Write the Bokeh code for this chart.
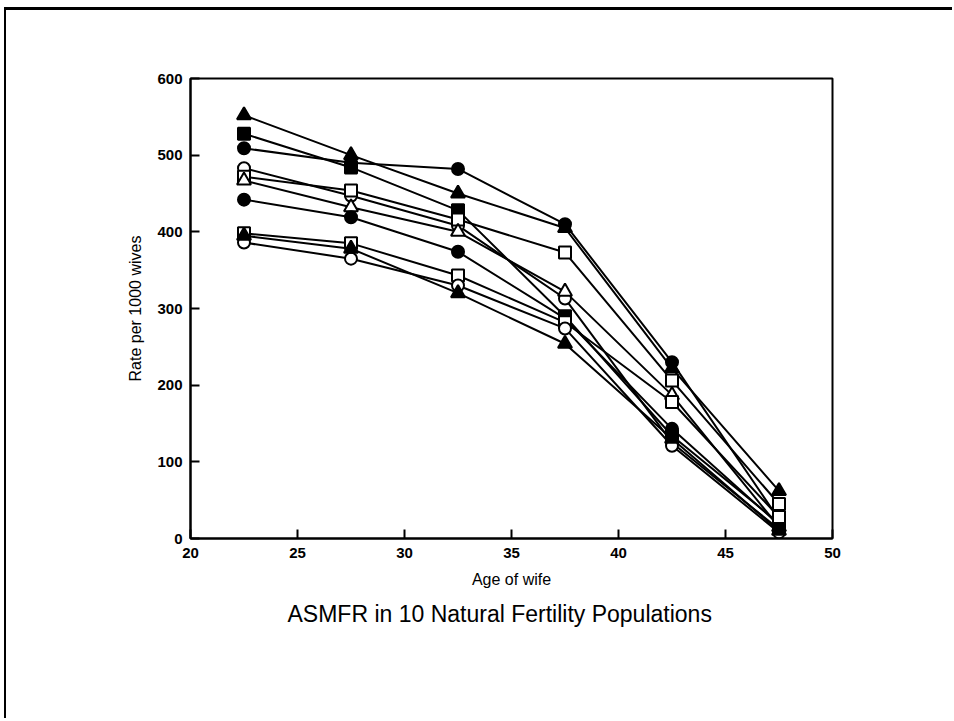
from bokeh.plotting import figure
from bokeh.models import Range1d, FixedTicker, Title
from bokeh.embed import file_html
from bokeh.resources import INLINE

ages = [22.5, 27.5, 32.5, 37.5, 42.5, 47.5]

pop1 = [552, 500, 450, 405, 222, 62]
pop2 = [528, 484, 428, 290, 134, 20]
pop3 = [509, 490, 482, 410, 230, 25]
pop4 = [483, 447, 408, 313, 125, 12]
pop5 = [472, 454, 416, 373, 206, 45]
pop6 = [467, 432, 400, 322, 187, 15]
pop7 = [442, 419, 374, 287, 143, 18]
pop8 = [398, 385, 343, 282, 178, 28]
pop9 = [386, 365, 330, 274, 121, 8]
pop10 = [395, 378, 320, 254, 130, 10]

series = [
    (pop1, "triangle", True),
    (pop2, "square", True),
    (pop3, "circle", True),
    (pop4, "circle", False),
    (pop5, "square", False),
    (pop6, "triangle", False),
    (pop7, "circle", True),
    (pop8, "square", False),
    (pop9, "circle", False),
    (pop10, "triangle", True),
]

x_ticks = [20, 25, 30, 35, 40, 45, 50]
y_ticks = [0, 100, 200, 300, 400, 500, 600]

W, H = 948, 711
OX, OY = 6, 10  # canvas offset within page

p = figure(width=W, height=H, output_backend="svg", toolbar_location=None,
           x_range=Range1d(20, 50), y_range=Range1d(0, 600),
           min_border_left=190 - OX, min_border_right=OX + W - 832,
           min_border_top=78 - OY, min_border_bottom=OY + H - 538)
p.margin = (7, 0, 0, 4)
p.styles = {"border-top": "3px solid black", "border-left": "2px solid black"}

p.grid.visible = False
p.outline_line_color = "black"
p.outline_line_width = 2
p.background_fill_color = "white"
p.border_fill_color = "white"

for ax in (p.xaxis[0], p.yaxis[0]):
    ax.axis_line_width = 2
    ax.axis_line_color = "black"
    ax.major_tick_in = 9
    ax.major_tick_out = 0
    ax.major_tick_line_width = 2
    ax.minor_tick_line_color = None
    ax.major_label_text_font = "Liberation Sans"
    ax.major_label_text_font_size = "15px"
    ax.major_label_text_font_style = "bold"
    ax.major_label_text_color = "black"
    ax.axis_label_text_font = "Liberation Sans"
    ax.axis_label_text_font_size = "16px"
    ax.axis_label_text_font_style = "normal"
    ax.axis_label_text_color = "black"

p.xaxis.ticker = FixedTicker(ticks=x_ticks)
p.yaxis.ticker = FixedTicker(ticks=y_ticks)
p.xaxis.major_label_standoff = 9
p.yaxis.major_label_standoff = 8
p.xaxis.axis_label = "Age of wife"
p.yaxis.axis_label = "Rate per 1000 wives"
p.xaxis.axis_label_standoff = 10
p.yaxis.axis_label_standoff = 10

for vals, mk, filled in series:
    p.line(ages, vals, line_color="black", line_width=2)

for vals, mk, filled in series:
    size = 14 if mk == "triangle" else 12
    p.scatter(ages, vals, marker=mk, size=size,
              fill_color="black" if filled else "white",
              line_color="black", line_width=2)

title = Title(text="ASMFR in 10 Natural Fertility Populations",
              align="left", text_font="Liberation Sans",
              text_font_size="23px", text_font_style="normal",
              text_color="black", standoff=16, offset=97)
p.add_layout(title, "below")

open("out.html", "w").write(file_html(p, INLINE))
